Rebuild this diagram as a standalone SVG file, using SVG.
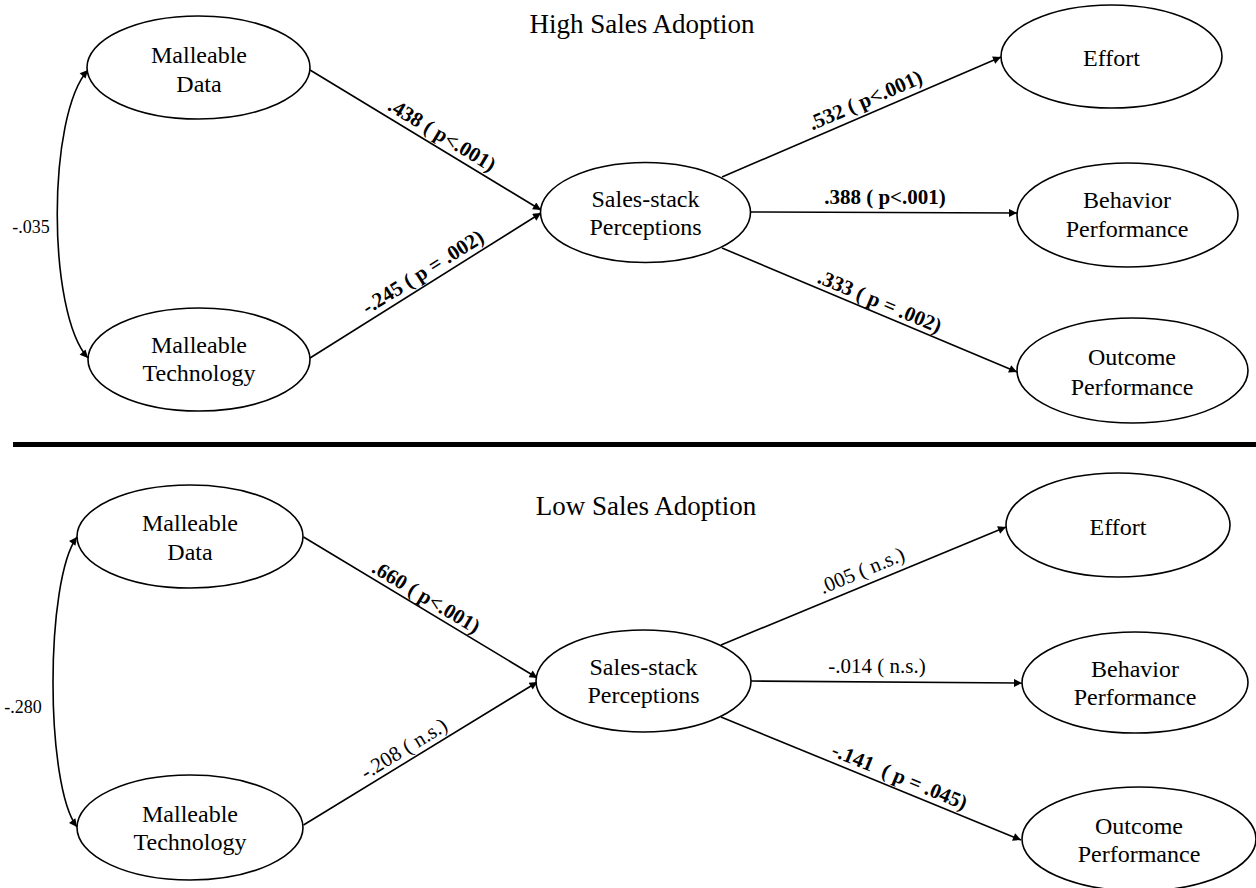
<svg xmlns="http://www.w3.org/2000/svg" width="1256" height="888" viewBox="0 0 1256 888">
<style>
g.nd ellipse{fill:#fff;stroke:#000;stroke-width:1.6}
svg g.nd text.nt{font-family:"Liberation Serif","Times New Roman",serif !important;font-size:24px !important;font-weight:normal !important;text-anchor:middle;fill:#000}
.title{font-family:"Liberation Serif","Times New Roman",serif;font-size:27px;text-anchor:middle;fill:#000}
.edge{fill:none;stroke:#000;stroke-width:1.6}
.lbl{font-family:"Liberation Serif","Times New Roman",serif;font-size:21px;text-anchor:middle;fill:#000}
.b{font-weight:bold}
.cov{font-family:"Liberation Serif","Times New Roman",serif;font-size:18px;text-anchor:middle;fill:#000}
</style>
<defs>
<marker id="arr" viewBox="0 0 10 10" refX="10" refY="5" markerWidth="10" markerHeight="8" markerUnits="userSpaceOnUse" orient="auto-start-reverse">
<path d="M0,0 L10,5 L0,10 z" fill="#000"/>
</marker>
</defs>
<rect width="1256" height="888" fill="#fff"/>
<text class="title" x="642" y="33">High Sales Adoption</text>
<text class="title" x="646" y="515">Low Sales Adoption</text>
<line x1="13" y1="444.5" x2="1256" y2="444.5" stroke="#000" stroke-width="5"/>
<g id="connectors">
<path class="edge" d="M88,70 C47,115 47,313 88,358" marker-start="url(#arr)" marker-end="url(#arr)"/>
<line class="edge" x1="310" y1="70" x2="541" y2="210" marker-end="url(#arr)"/>
<line class="edge" x1="310" y1="358" x2="541" y2="213" marker-end="url(#arr)"/>
<line class="edge" x1="722" y1="177" x2="1001" y2="57" marker-end="url(#arr)"/>
<line class="edge" x1="751" y1="212" x2="1017" y2="213" marker-end="url(#arr)"/>
<line class="edge" x1="722" y1="248" x2="1017" y2="372" marker-end="url(#arr)"/>
<path class="edge" d="M77,537 C45,580 45,785 77,827" marker-start="url(#arr)" marker-end="url(#arr)"/>
<line class="edge" x1="303.5" y1="537" x2="537.5" y2="678" marker-end="url(#arr)"/>
<line class="edge" x1="303.5" y1="825" x2="537.5" y2="682" marker-end="url(#arr)"/>
<line class="edge" x1="721" y1="645" x2="1006" y2="527" marker-end="url(#arr)"/>
<line class="edge" x1="751" y1="681" x2="1022" y2="683" marker-end="url(#arr)"/>
<line class="edge" x1="721" y1="717" x2="1021" y2="840" marker-end="url(#arr)"/>
<text class="cov" x="31" y="233">-.035</text>
<text class="cov" x="23" y="713">-.280</text>
<text class="lbl b" transform="translate(435.3,145.9) rotate(31.22)" y="-6">.438 ( p&lt;.001)</text>
<text class="lbl b" transform="translate(429.6,282.9) rotate(-32.12)" y="-6">-.245 ( p = .002)</text>
<text class="lbl b" transform="translate(870.9,113) rotate(-23.27)" y="-7">.532 ( p&lt;.001)</text>
<text class="lbl b" x="885" y="204">.388 ( p&lt;.001)</text>
<text class="lbl b" transform="translate(875.1,312.4) rotate(22.8)" y="-5">.333 ( p = .002)</text>
<text class="lbl b" transform="translate(420,607.2) rotate(31.07)" y="-5">.660 ( p&lt;.001)</text>
<text class="lbl" transform="translate(410.6,759.6) rotate(-31.43)" y="-6">-.208 ( n.s.)</text>
<text class="lbl" transform="translate(867.5,584.3) rotate(-22.49)" y="-8">.005 ( n.s.)</text>
<text class="lbl" x="877" y="673">-.014 ( n.s.)</text>
<text class="lbl b" transform="translate(894.7,788.2) rotate(22.3)" y="-6" xml:space="preserve">-.141  ( p = .045)</text>
</g>
<g id="high-malleable-data" class="nd"><ellipse cx="198.5" cy="67.5" rx="111.5" ry="51.5"/><text class="nt" x="199" y="63">Malleable</text><text class="nt" x="199" y="92">Data</text></g>
<g id="high-malleable-technology" class="nd"><ellipse cx="199" cy="359.5" rx="111" ry="51.5"/><text class="nt" x="199" y="353">Malleable</text><text class="nt" x="199" y="381">Technology</text></g>
<g id="high-salesstack" class="nd"><ellipse cx="645.5" cy="212.5" rx="105" ry="50"/><text class="nt" x="645.5" y="206.5">Sales-stack</text><text class="nt" x="645.5" y="235">Perceptions</text></g>
<g id="high-effort" class="nd"><ellipse cx="1111.5" cy="56.5" rx="110.5" ry="51.5"/><text class="nt" x="1111.5" y="65.5">Effort</text></g>
<g id="high-behavior" class="nd"><ellipse cx="1127.5" cy="215" rx="110.5" ry="52"/><text class="nt" x="1127" y="208">Behavior</text><text class="nt" x="1127" y="237">Performance</text></g>
<g id="high-outcome" class="nd"><ellipse cx="1132.5" cy="370.5" rx="115.5" ry="52.5"/><text class="nt" x="1132" y="365">Outcome</text><text class="nt" x="1132" y="395">Performance</text></g>
<g id="low-malleable-data" class="nd"><ellipse cx="190" cy="536.5" rx="113" ry="51.5"/><text class="nt" x="190" y="531">Malleable</text><text class="nt" x="190" y="560">Data</text></g>
<g id="low-malleable-technology" class="nd"><ellipse cx="190" cy="827.5" rx="113" ry="52.5"/><text class="nt" x="190" y="822">Malleable</text><text class="nt" x="190" y="850">Technology</text></g>
<g id="low-salesstack" class="nd"><ellipse cx="643.5" cy="681" rx="107.5" ry="51"/><text class="nt" x="643.5" y="675">Sales-stack</text><text class="nt" x="643.5" y="703">Perceptions</text></g>
<g id="low-effort" class="nd"><ellipse cx="1118" cy="525" rx="112" ry="52"/><text class="nt" x="1118" y="535">Effort</text></g>
<g id="low-behavior" class="nd"><ellipse cx="1135" cy="682.5" rx="113" ry="50.5"/><text class="nt" x="1135" y="677">Behavior</text><text class="nt" x="1135" y="705">Performance</text></g>
<g id="low-outcome" class="nd"><ellipse cx="1139" cy="839" rx="117" ry="52"/><text class="nt" x="1139" y="834">Outcome</text><text class="nt" x="1139" y="862">Performance</text></g>
</svg>
